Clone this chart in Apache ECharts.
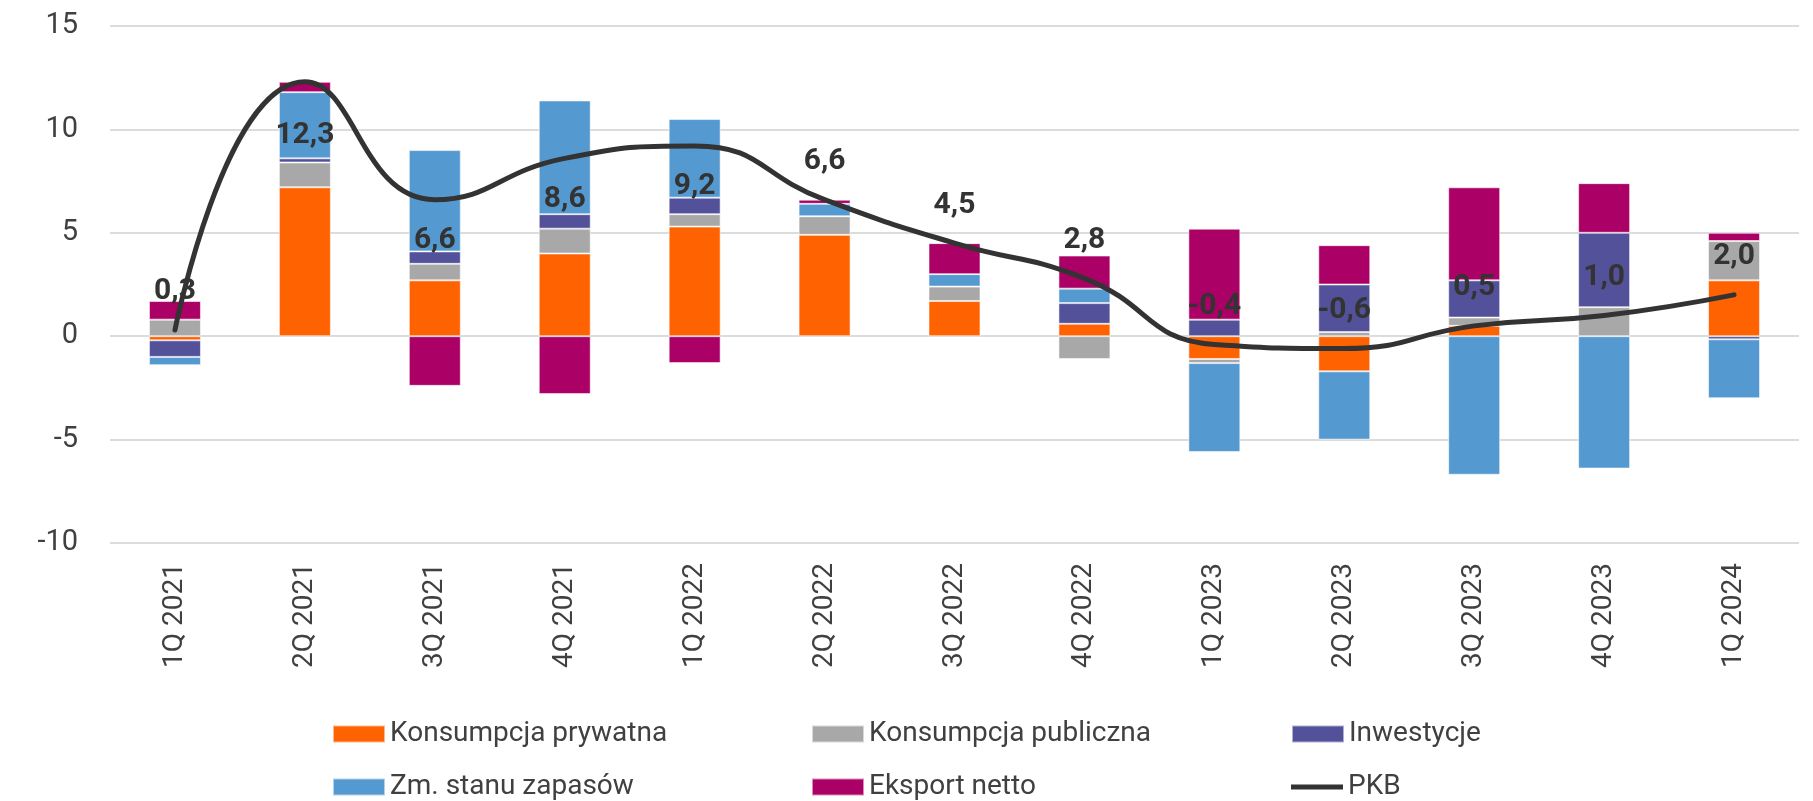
<!DOCTYPE html>
<html>
<head>
<meta charset="utf-8">
<title>PKB - dekompozycja</title>
<script src="https://cdn.jsdelivr.net/npm/echarts@6/dist/echarts.min.js"></script>
<style>
  html, body { margin: 0; padding: 0; background: #fff; }
  #chart { width: 1813px; height: 801px; }
</style>
</head>
<body>
<div id="chart"></div>
<script>
'use strict';

// kwartały
var categories = ['1Q 2021', '2Q 2021', '3Q 2021', '4Q 2021', '1Q 2022', '2Q 2022', '3Q 2022',
  '4Q 2022', '1Q 2023', '2Q 2023', '3Q 2023', '4Q 2023', '1Q 2024'];

// kontrybucje do wzrostu PKB (pkt proc.)
var privCons    = [-0.2, 7.2, 2.7, 4.0, 5.3, 4.9, 1.7, 0.6, -1.1, -1.7, 0.5, 0.0, 2.7];
var pubCons     = [0.8, 1.2, 0.8, 1.2, 0.6, 0.9, 0.7, -1.1, -0.2, 0.2, 0.4, 1.4, 1.9];
var investment  = [-0.8, 0.2, 0.6, 0.7, 0.8, 0.0, 0.0, 1.0, 0.8, 2.3, 1.8, 3.6, -0.15];
var inventories = [-0.4, 3.2, 4.9, 5.5, 3.8, 0.6, 0.6, 0.7, -4.3, -3.3, -6.7, -6.4, -2.85];
var netExports  = [0.9, 0.5, -2.4, -2.8, -1.3, 0.2, 1.5, 1.6, 4.4, 1.9, 4.5, 2.4, 0.4];
var gdp         = [0.3, 12.3, 6.6, 8.6, 9.2, 6.6, 4.5, 2.8, -0.4, -0.6, 0.5, 1.0, 2.0];

var yTicks = [-10, -5, 0, 5, 10, 15];

var FONT = 'Roboto, "Noto Sans", sans-serif';
var TEXT = '#404040';

// etykiety PKB pod linią dla tych kwartałów (indeks -> odstęp)
var labelBelow = { 1: 38, 2: 25, 3: 25, 4: 25 };

function barSeries(name, data, color) {
  return {
    name: name,
    type: 'bar',
    stack: 'kontrybucje',
    barWidth: '40%',
    data: data,
    itemStyle: {
      color: color,
      borderColor: 'rgba(255,255,255,0.55)',
      borderWidth: 1
    }
  };
}

var gdpData = gdp.map(function(v, i) {
  var below = labelBelow[i] !== undefined;
  return {
    value: v,
    label: {
      position: below ? 'bottom' : 'top',
      distance: below ? labelBelow[i] : 22
    }
  };
});

// legenda 3 kolumny x 2 wiersze, jedna pozycja na komponent
var legendCols = [327, 806, 1286];
var legendRows = [715, 768];
var legendNames = [
  ['Konsumpcja prywatna', 'Konsumpcja publiczna', 'Inwestycje'],
  ['Zm. stanu zapasów', 'Eksport netto', 'PKB']
];

function legendItem(name, left, top) {
  var item = {
    left: left,
    top: top,
    itemWidth: 52,
    itemHeight: 17,
    icon: 'rect',
    textStyle: { fontFamily: FONT, fontSize: 28, color: TEXT, lineHeight: 28 },
    data: [name]
  };
  if (name === 'PKB') {
    item.data = [{
      name: name,
      icon: 'path://M0,0 L52,0 L52,5 L0,5 Z',
      itemStyle: { color: '#333333', opacity: 1 }
    }];
    item.itemHeight = 5;
  }
  return item;
}

var legends = [];
for (var r = 0; r < legendRows.length; r++) {
  for (var c = 0; c < legendCols.length; c++) {
    legends.push(legendItem(legendNames[r][c], legendCols[c], legendRows[r]));
  }
}

var myChart = echarts.init(document.getElementById('chart'));

var option = {
  animation: false,
  backgroundColor: '#fff',
  grid: { left: 110, right: 14, top: 26, bottom: 258 },
  legend: legends,
  xAxis: {
    type: 'category',
    data: categories,
    axisLine: { show: false, onZero: false },
    axisTick: { show: false },
    axisLabel: {
      rotate: 90,
      margin: 20,
      fontFamily: FONT,
      fontSize: 28,
      color: TEXT
    },
    splitLine: { show: false }
  },
  yAxis: {
    type: 'value',
    min: yTicks[0],
    max: yTicks[yTicks.length - 1],
    interval: 5,
    axisLine: { show: false },
    axisTick: { show: false },
    axisLabel: {
      margin: 32,
      fontFamily: FONT,
      fontSize: 29,
      color: TEXT
    },
    splitLine: { lineStyle: { color: '#dcdcdc', width: 2 } }
  },
  series: [
    barSeries('Konsumpcja prywatna', privCons, '#ff6200'),
    barSeries('Konsumpcja publiczna', pubCons, '#a8a8a8'),
    barSeries('Inwestycje', investment, '#525199'),
    barSeries('Zm. stanu zapasów', inventories, '#5599d1'),
    barSeries('Eksport netto', netExports, '#ab0066'),
    {
      name: 'PKB',
      type: 'line',
      data: gdpData,
      smooth: 0.5,
      symbol: 'circle',
      symbolSize: 2,
      showSymbol: true,
      z: 5,
      itemStyle: { color: '#333333' },
      lineStyle: { color: '#333333', width: 5, cap: 'round' },
      label: {
        show: true,
        opacity: 1,
        fontFamily: FONT,
        fontSize: 30,
        fontWeight: 'bold',
        lineHeight: 30,
        color: '#333333',
        formatter: function(p) {
          return p.value.toFixed(1).replace('.', ',');
        }
      }
    }
  ]
};

myChart.setOption(option);
</script>
</body>
</html>
